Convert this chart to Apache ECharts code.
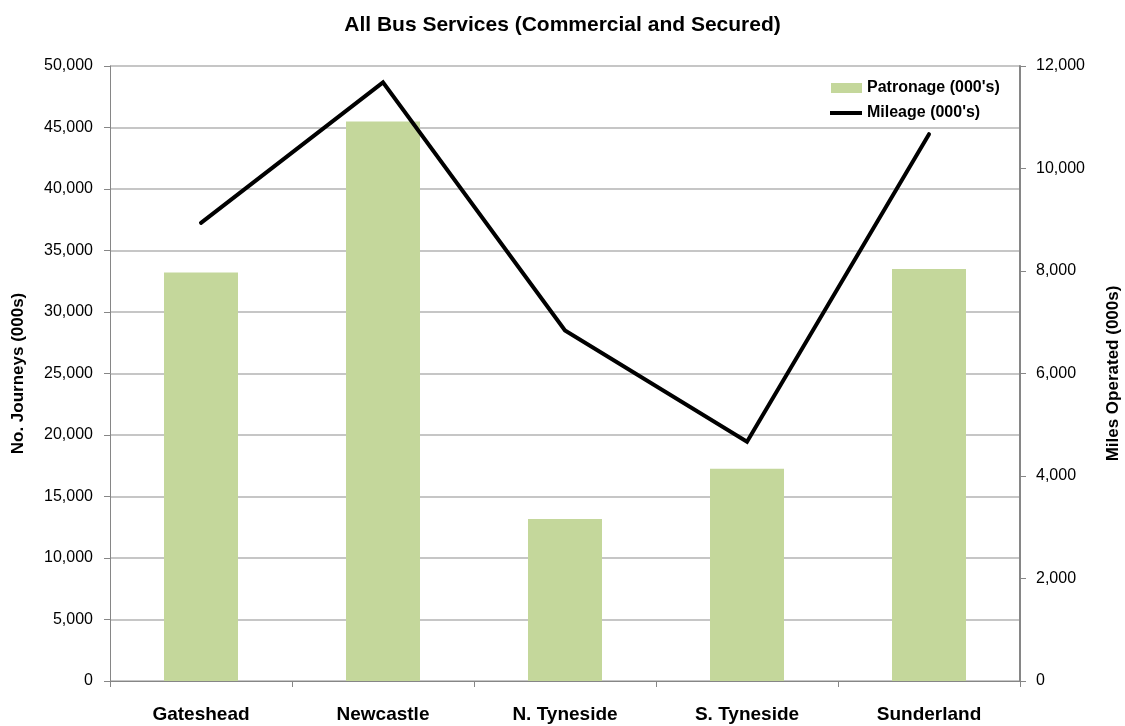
<!DOCTYPE html>
<html>
<head>
<meta charset="utf-8">
<script src="https://cdn.jsdelivr.net/npm/echarts@6/dist/echarts.min.js"></script>
<style>
  html, body { margin: 0; padding: 0; background: #fff; }
  #chart { width: 1125px; height: 726px; }
</style>
</head>
<body>
<div id="chart"></div>
<script>
// Bus services by district
const categories = ['Gateshead', 'Newcastle', 'N. Tyneside', 'S. Tyneside', 'Sunderland'];
const patronage = [33220, 45480, 13180, 17250, 33500];   // journeys (000's)
const mileage = [8940, 11680, 6840, 4670, 10670];        // miles operated (000's)
const leftTicks = { min: 0, max: 50000, interval: 5000 };
const rightTicks = { min: 0, max: 12000, interval: 2000 };

const FONT = '"Liberation Sans", Arial, sans-serif';
const AXIS_GREY = '#868686';
const fmt = v => v.toLocaleString('en-US');
const legendText = { fontFamily: FONT, fontSize: 16, fontWeight: 'bold', color: '#000' };
const nameText = { fontFamily: FONT, fontSize: 17, fontWeight: 'bold', color: '#000' };

const chart = echarts.init(document.getElementById('chart'));
chart.setOption({
  animation: false,
  backgroundColor: '#ffffff',
  title: {
    text: 'All Bus Services (Commercial and Secured)',
    left: 'center',
    top: 10,
    textStyle: { fontFamily: FONT, fontSize: 21, fontWeight: 'bold', color: '#000' }
  },
  // two legends so the line key can be drawn as a thin bar
  legend: [
    {
      left: 831,
      top: 80,
      padding: 0,
      itemWidth: 31,
      itemHeight: 10,
      itemGap: 0,
      textStyle: legendText,
      data: [{ name: "Patronage (000's)", icon: 'rect' }]
    },
    {
      left: 830,
      top: 105,
      padding: 0,
      itemWidth: 32,
      itemHeight: 4,
      textStyle: legendText,
      data: [{ name: "Mileage (000's)", icon: 'rect', itemStyle: { color: '#000' } }]
    }
  ],
  grid: { left: 110, right: 105, top: 66, bottom: 45, containLabel: false, outerBoundsMode: 'none' },
  xAxis: {
    type: 'category',
    data: categories,
    axisLine: { lineStyle: { color: AXIS_GREY, width: 1 } },
    axisTick: { show: true, alignWithLabel: false, length: 6, lineStyle: { color: AXIS_GREY } },
    axisLabel: { fontFamily: FONT, fontSize: 19, fontWeight: 'bold', color: '#000', margin: 24 }
  },
  yAxis: [
    {
      type: 'value',
      ...leftTicks,
      name: 'No. Journeys (000s)',
      nameLocation: 'middle',
      nameGap: 83,
      nameTextStyle: nameText,
      axisLine: { show: true, lineStyle: { color: AXIS_GREY } },
      axisTick: { show: true, length: 6, lineStyle: { color: AXIS_GREY } },
      axisLabel: { fontFamily: FONT, fontSize: 16, color: '#000', margin: 17, formatter: fmt },
      splitLine: { show: true, lineStyle: { color: '#b3b3b3', width: 1.5 } }
    },
    {
      type: 'value',
      ...rightTicks,
      name: 'Miles Operated (000s)',
      nameLocation: 'middle',
      nameGap: 85,
      nameRotate: 90,
      nameTextStyle: nameText,
      axisLine: { show: true, lineStyle: { color: AXIS_GREY, width: 2 } },
      axisTick: { show: true, length: 6, lineStyle: { color: AXIS_GREY } },
      axisLabel: { fontFamily: FONT, fontSize: 16, color: '#000', margin: 16, formatter: fmt },
      splitLine: { show: false }
    }
  ],
  series: [
    {
      name: "Patronage (000's)",
      type: 'bar',
      yAxisIndex: 0,
      data: patronage,
      barWidth: 74,
      itemStyle: { color: '#c4d79b' }
    },
    {
      name: "Mileage (000's)",
      type: 'line',
      yAxisIndex: 1,
      data: mileage,
      symbol: 'none',
      lineStyle: { color: '#000', width: 4, cap: 'round', join: 'miter' },
      itemStyle: { color: '#000' }
    }
  ]
});
</script>
</body>
</html>
